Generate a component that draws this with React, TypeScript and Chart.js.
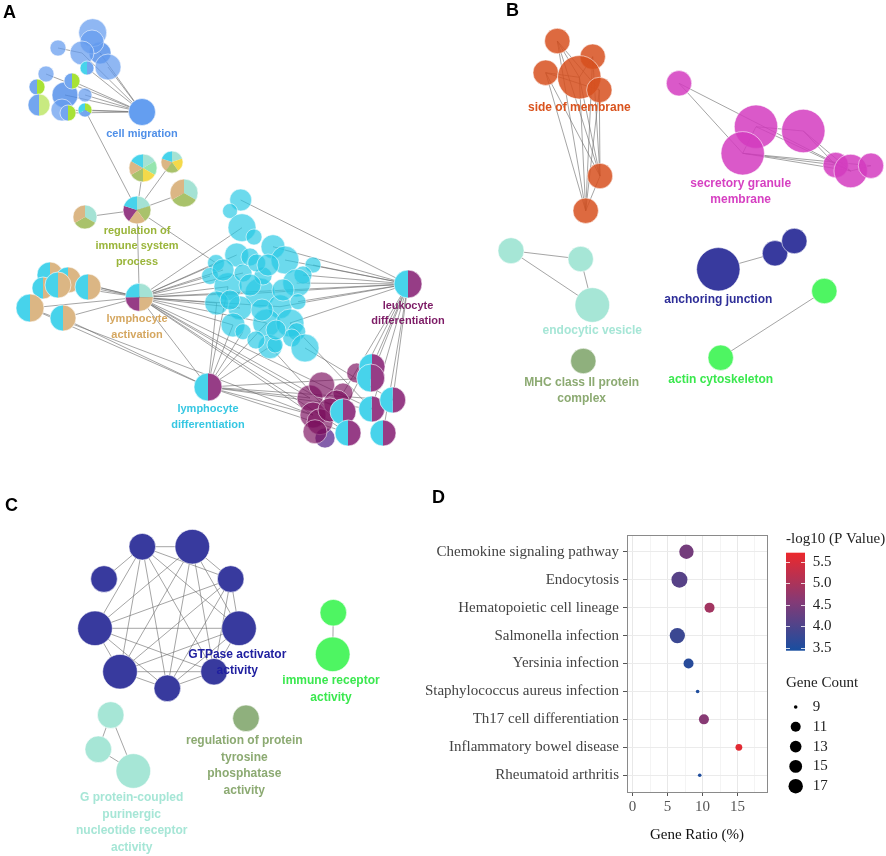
import { useEffect, useRef } from 'react';
import { Chart, registerables } from 'chart.js';
Chart.register(...registerables);

// ---------------- Panel D data ----------------
const pathways = [
  'Chemokine signaling pathway',
  'Endocytosis',
  'Hematopoietic cell lineage',
  'Salmonella infection',
  'Yersinia infection',
  'Staphylococcus aureus infection',
  'Th17 cell differentiation',
  'Inflammatory bowel disease',
  'Rheumatoid arthritis',
];
const geneRatio = [7.7, 6.7, 11.0, 6.4, 8.0, 9.3, 10.2, 15.2, 9.6];
const logP = [4.4, 4.1, 4.9, 3.8, 3.6, 3.5, 4.6, 5.6, 3.5];
const geneCount = [17, 19, 11, 18, 11, 9, 11, 10, 9];
const colorTicks = [3.5, 4.0, 4.5, 5.0, 5.5];
const countTicks = [9, 11, 13, 15, 17];

// ---------------- Network data (layout coordinates) ----------------
// [id, x, y, r, colour]
const nodesA: [string, number, number, number, string][] = [
  ['t1', 92.7, 32.7, 14, 'blue'], ['t2', 92, 42, 12, 'blue'], ['t3', 82, 53, 12, 'blue'],
  ['t4', 100, 53, 11, 'blueD'], ['t5', 108, 67, 13, 'blue'], ['t6', 58, 48, 8, 'blue'],
  ['t7', 46, 74, 8, 'blue'], ['t8', 65, 95, 13, 'blueD'], ['t9', 85, 95, 7, 'blue'],
  ['t10', 62, 110, 11, 'blue'], ['cm', 142, 112, 13.5, 'blueS'],
  ['c1', 240.7, 200, 11, 'cyan'], ['c2', 230, 211, 7.5, 'cyan'], ['c3', 242, 227.7, 14, 'cyan'],
  ['c4', 254, 237, 8, 'cyan'], ['c5', 273, 246.7, 12, 'cyan'], ['c6', 285, 260, 14, 'cyan'],
  ['c7', 236.7, 255, 12, 'cyan'], ['c8', 216, 263, 8.5, 'cyan'], ['c9', 210, 276, 8.5, 'cyan'],
  ['c10', 313, 265, 8, 'cyan'], ['c11', 303, 275, 9, 'cyan'], ['c12', 296.7, 283, 14, 'cyan'],
  ['c13', 228, 286.7, 14, 'cyan'], ['c14', 260, 293, 15, 'cyan'], ['c15', 263, 276, 9, 'cyan'],
  ['c16', 243, 273, 9, 'cyan'], ['c17', 250, 257, 9, 'cyan'], ['c18', 216.7, 303, 12, 'cyan'],
  ['c19', 240, 308, 12, 'cyan'], ['c20', 280, 306.7, 12, 'cyan'], ['c21', 298, 301.7, 8, 'cyan'],
  ['c22', 233, 325, 12, 'cyan'], ['c23', 266.7, 323, 14, 'cyan'], ['c24', 290, 323, 14, 'cyan'],
  ['c25', 243, 331.7, 8, 'cyan'], ['c26', 296.7, 331.7, 9, 'cyan'], ['c27', 270, 346.7, 12, 'cyan'],
  ['c28', 275, 345, 8, 'cyan'], ['c29', 291.7, 338, 9, 'cyan'], ['c30', 305, 348, 14, 'cyan'],
  ['c31', 223, 270, 11, 'cyan'], ['c32', 256.7, 263, 9, 'cyan'], ['c33', 268, 265, 11, 'cyan'],
  ['c34', 250, 285, 11, 'cyan'], ['c35', 262, 310, 11, 'cyan'], ['c36', 283, 290, 11, 'cyan'],
  ['c37', 230, 300, 10, 'cyan'], ['c38', 256, 340, 9, 'cyan'], ['c39', 276, 330, 10, 'cyan'],
  ['u1', 310, 398, 13, 'purple'], ['u2', 321.7, 385, 13, 'purple'], ['u3', 343, 393, 10, 'purple'],
  ['u4', 336.7, 403, 13, 'purple'], ['u5', 313, 415, 13, 'purple'], ['u6', 320, 421.7, 13, 'purple'],
  ['u7', 315, 431.7, 12, 'purple'], ['u8', 325, 438, 10, 'violet'], ['u9', 356.7, 373, 10, 'purple'],
  ['u10', 330, 410, 12, 'purple'],
];
// [id, x, y, r, slice colours clockwise from 12 o'clock]
const piesA: [string, number, number, number, string[]][] = [
  ['p1', 87, 68, 7, ['blueP', 'cyanP']], ['p2', 37, 87, 8, ['lime', 'blueP']],
  ['p3', 39, 105, 11, ['limeL', 'blueP']], ['p4', 72, 81, 8, ['lime', 'blueP']],
  ['p5', 68, 113, 8, ['lime', 'blueP']], ['p6', 85, 110, 7, ['lime', 'blueP', 'cyanP']],
  ['r1', 143, 168, 14, ['mint', 'green', 'yellow', 'olive', 'tan', 'cyanP']],
  ['r2', 172, 162, 11, ['mint', 'yellow', 'olive', 'tan', 'cyanP']],
  ['r3', 184, 193, 14, ['mint', 'olive', 'tan']],
  ['r4', 85, 217, 12, ['mint', 'olive', 'tan']],
  ['reg', 137, 210, 14, ['mint', 'olive', 'tan', 'purpleP', 'cyanP']],
  ['s1', 50, 275, 13, ['tan', 'cyanP']], ['s2', 68, 280, 13, ['tan', 'cyanP']],
  ['s3', 43, 288, 11, ['tan', 'cyanP']], ['s4', 58, 285, 13, ['tan', 'cyanP']],
  ['s5', 88, 287, 13, ['tan', 'cyanP']], ['s6', 30, 308, 14, ['tan', 'cyanP']],
  ['s7', 63, 318, 13, ['tan', 'cyanP']],
  ['la', 139.3, 297.3, 14, ['mint', 'tan', 'purpleP', 'cyanP']],
  ['ld', 408, 284, 14, ['purpleP', 'cyanP']],
  ['lyd', 208, 387, 14, ['purpleP', 'cyanP']],
  ['q1', 343, 411.7, 13, ['purpleP', 'cyanP']], ['q2', 348, 433, 13, ['purpleP', 'cyanP']],
  ['q3', 372, 366.7, 13, ['purpleP', 'cyanP']], ['q4', 370.7, 378, 14, ['purpleP', 'cyanP']],
  ['q5', 371.7, 409, 13, ['purpleP', 'cyanP']], ['q6', 392.7, 400, 13, ['purpleP', 'cyanP']],
  ['q7', 383, 433, 13, ['purpleP', 'cyanP']],
];
const edgesA: [string, string][] = [
  ['t3', 'cm'], ['t4', 'cm'], ['t5', 'cm'], ['p1', 'cm'], ['t7', 'cm'], ['t8', 'cm'], ['t9', 'cm'],
  ['t10', 'cm'], ['p5', 'cm'], ['p6', 'cm'], ['p4', 'cm'], ['t6', 't3'],
  ['reg', 'r1'], ['reg', 'r2'], ['reg', 'r3'], ['reg', 'r4'], ['reg', 'la'], ['p6', 'reg'], ['reg', 'c8'],
  ['la', 's1'], ['la', 's2'], ['la', 's5'], ['la', 's6'], ['la', 's7'], ['la', 's4'],
  ['la', 'c8'], ['la', 'c9'], ['la', 'c13'], ['la', 'c31'], ['la', 'c16'], ['la', 'c18'], ['la', 'c14'],
  ['la', 'c19'], ['la', 'c22'], ['la', 'c3'], ['la', 'c7'], ['la', 'c20'], ['la', 'c23'],
  ['la', 'ld'], ['la', 'lyd'], ['la', 'u1'], ['la', 'u5'], ['la', 'q2'], ['la', 'q5'], ['la', 'q1'],
  ['ld', 'c1'], ['ld', 'c5'], ['ld', 'c6'], ['ld', 'c10'], ['ld', 'c12'], ['ld', 'c11'], ['ld', 'c24'],
  ['ld', 'c21'], ['ld', 'c20'], ['ld', 'c14'], ['ld', 'q3'], ['ld', 'q4'], ['ld', 'q5'], ['ld', 'q6'],
  ['ld', 'q7'], ['ld', 'q1'], ['ld', 'u3'],
  ['lyd', 'c22'], ['lyd', 'c25'], ['lyd', 'c27'], ['lyd', 'c13'], ['lyd', 'c23'], ['lyd', 'c18'],
  ['lyd', 'u1'], ['lyd', 'u5'], ['lyd', 'q2'], ['lyd', 'q5'], ['lyd', 'q4'], ['lyd', 's6'], ['lyd', 's7'],
  ['lyd', 'q6'], ['s6', 'u5'], ['c30', 'q6'], ['c27', 'q2'], ['c24', 'q5'],
];

const nodesB: [string, number, number, number, string][] = [
  ['o1', 557.3, 41, 12.7, 'orange'], ['o2', 592.7, 56.7, 12.7, 'orange'], ['o3', 545.7, 72.7, 12.7, 'orange'],
  ['o4', 579.3, 77.3, 21.7, 'orange'], ['o5', 599.3, 90, 12.7, 'orange'], ['o6', 600, 176, 12.7, 'orange'],
  ['o7', 585.7, 210.7, 12.7, 'orange'],
  ['m1', 679, 83.3, 12.7, 'magenta'], ['m2', 756, 126.7, 21.7, 'magenta'], ['m3', 803.3, 131, 21.7, 'magenta'],
  ['m4', 742.7, 153.3, 21.7, 'magenta'], ['m5', 835.7, 165, 12.7, 'magenta'], ['m6', 850.7, 171, 16.7, 'magenta'],
  ['m7', 871, 165.7, 12.7, 'magenta'],
  ['e1', 511, 250.7, 13, 'mintN'], ['e2', 580.7, 259, 12.7, 'mintN'], ['e3', 592.3, 305, 17.3, 'mintN'],
  ['mhc', 583.3, 361, 12.7, 'oliveN'],
  ['j1', 718.3, 269.3, 21.7, 'navy'], ['j2', 775, 253.3, 12.7, 'navy'], ['j3', 794.3, 241, 12.7, 'navy'],
  ['g1', 824.3, 291, 12.7, 'greenN'], ['g2', 720.7, 357.7, 12.7, 'greenN'],
];
const edgesB: [string, string][] = [
  ['o1', 'o6'], ['o1', 'o7'], ['o3', 'o6'], ['o3', 'o7'], ['o4', 'o6'], ['o4', 'o7'], ['o5', 'o6'],
  ['o5', 'o7'], ['o2', 'o6'], ['o2', 'o7'], ['o1', 'o5'], ['o3', 'o5'], ['o6', 'o7'], ['o1', 'o4'],
  ['o3', 'o4'], ['o2', 'o4'],
  ['m1', 'm6'], ['m1', 'm4'], ['m2', 'm3'], ['m4', 'm5'], ['m4', 'm6'], ['m4', 'm7'], ['m2', 'm6'],
  ['m3', 'm6'], ['m3', 'm5'], ['m5', 'm6'], ['m6', 'm7'], ['m2', 'm4'],
  ['e1', 'e2'], ['e1', 'e3'], ['e2', 'e3'],
  ['j1', 'j2'], ['j2', 'j3'],
  ['g1', 'g2'],
];

const nodesC: [string, number, number, number, string][] = [
  ['k1', 142.3, 546.7, 13.3, 'navy'], ['k2', 192.3, 546.7, 17.3, 'navy'], ['k3', 104, 579, 13.3, 'navy'],
  ['k4', 230.7, 579, 13.3, 'navy'], ['k5', 95, 628.3, 17.3, 'navy'], ['k6', 239, 628.3, 17.3, 'navy'],
  ['k7', 120, 671.7, 17.3, 'navy'], ['k8', 167.3, 688.3, 13.3, 'navy'], ['k9', 214, 671.7, 13.3, 'navy'],
  ['h1', 110.7, 715, 13.3, 'mintN'], ['h2', 98.3, 749.3, 13.3, 'mintN'], ['h3', 133.3, 771, 17.3, 'mintN'],
  ['i1', 333.3, 612.7, 13.3, 'greenN'], ['i2', 332.7, 654.3, 17.3, 'greenN'],
  ['v1', 246, 718.3, 13.3, 'oliveN'],
];
const edgesC: [string, string][] = [
  ['k3', 'k1'],
  ['k1', 'k2'], ['k1', 'k4'], ['k1', 'k5'], ['k1', 'k6'], ['k1', 'k7'], ['k1', 'k8'], ['k1', 'k9'],
  ['k2', 'k4'], ['k2', 'k5'], ['k2', 'k6'], ['k2', 'k7'], ['k2', 'k8'], ['k2', 'k9'],
  ['k4', 'k5'], ['k4', 'k6'], ['k4', 'k7'], ['k4', 'k8'], ['k4', 'k9'],
  ['k5', 'k6'], ['k5', 'k7'], ['k5', 'k8'], ['k5', 'k9'],
  ['k6', 'k7'], ['k6', 'k8'], ['k6', 'k9'],
  ['k7', 'k8'], ['k7', 'k9'], ['k8', 'k9'],
  ['h1', 'h2'], ['h1', 'h3'], ['h2', 'h3'],
  ['i1', 'i2'],
];

// [lines, x, y of first line, colour, font size]
const netLabels: [string[], number, number, string, number][] = [
  [['cell migration'], 142, 134, '#4f8fe8', 11],
  [['regulation of', 'immune system', 'process'], 137, 230.7, '#9ab53a', 11],
  [['lymphocyte', 'activation'], 137, 319, '#d5a760', 11],
  [['leukocyte', 'differentiation'], 408, 305.7, '#7d1c66', 11],
  [['lymphocyte', 'differentiation'], 208, 409, '#36c7e2', 11],
  [['side of membrane'], 579.3, 107.3, '#d9531e', 12],
  [['secretory granule', 'membrane'], 740.7, 183.3, '#d640c2', 12],
  [['endocytic vesicle'], 592.3, 331, '#a6e6d6', 12],
  [['MHC class II protein', 'complex'], 581.7, 382.3, '#8caa72', 12],
  [['anchoring junction'], 718.3, 300, '#2e2e98', 12],
  [['actin cytoskeleton'], 720.7, 379.3, '#3ae84e', 12],
  [['GTPase activator', 'activity'], 237.3, 654.3, '#2020a0', 12],
  [['immune receptor', 'activity'], 331, 680.7, '#3ae84e', 12],
  [['regulation of protein', 'tyrosine', 'phosphatase', 'activity'], 244.3, 740.7, '#8caa72', 12],
  [['G protein-coupled', 'purinergic', 'nucleotide receptor', 'activity'], 131.7, 797.7, '#a6e6d6', 12],
];
const panelLetters: [string, number, number][] = [
  ['A', 3, 13], ['B', 506, 11], ['C', 5, 506], ['D', 432, 498],
];

const COLORS: Record<string, string> = {
  blue: 'rgba(100,155,238,0.72)', blueD: 'rgba(70,135,232,0.78)', blueS: 'rgba(100,158,240,1)',
  cyan: 'rgba(38,200,228,0.68)', purple: 'rgba(122,12,92,0.66)', violet: 'rgba(100,55,150,0.8)',
  blueP: '#73a6ef', cyanP: '#47d3eb', lime: '#a8e236', limeL: '#c8ea80', purpleP: '#963d86',
  tan: '#dbb684', mint: '#a4e2d4', green: '#94e5ae', yellow: '#f4d94a', olive: '#a9c26b',
  orange: 'rgba(215,80,30,0.85)', magenta: 'rgba(212,60,192,0.85)', mintN: '#a6e6d6',
  oliveN: '#8fb07d', navy: '#383a9e', greenN: '#4ef562',
};

const sizeStops: [number, number][] = [[9, 1.8], [11, 5], [13, 5.8], [15, 6.4], [17, 7.2], [19, 8]];
function sizeFor(c: number) {
  for (let i = 0; i < sizeStops.length - 1; i++) {
    const [a, ra] = sizeStops[i];
    const [b, rb] = sizeStops[i + 1];
    if (c <= b) return ra + ((c - a) / (b - a)) * (rb - ra);
  }
  return sizeStops[sizeStops.length - 1][1];
}
const colStops: [number, number[]][] = [[3.43, [24, 78, 160]], [4.57, [132, 58, 118]], [5.71, [236, 40, 44]]];
function colorFor(v: number) {
  const t = Math.max(colStops[0][0], Math.min(colStops[2][0], v));
  const i = t <= colStops[1][0] ? 0 : 1;
  const [a, ca] = colStops[i];
  const [b, cb] = colStops[i + 1];
  const f = (t - a) / (b - a);
  const c = ca.map((x, k) => Math.round(x + f * (cb[k] - x)));
  return `rgb(${c[0]},${c[1]},${c[2]})`;
}
const isMajor = (v: number) => Math.abs(v / 5 - Math.round(v / 5)) < 1e-6;

export default function App() {
  const netRef = useRef<HTMLCanvasElement>(null);
  const dRef = useRef<HTMLCanvasElement>(null);

  useEffect(() => {
    const pos: Record<string, [number, number]> = {};
    [...nodesA, ...nodesB, ...nodesC].forEach(n => (pos[n[0]] = [n[1], n[2]]));
    piesA.forEach(p => (pos[p[0]] = [p[1], p[2]]));

    const edgeData = (edges: [string, string][]) => {
      const out: any[] = [];
      edges.forEach(([a, b]) => {
        out.push({ x: pos[a][0], y: pos[a][1] });
        out.push({ x: pos[b][0], y: pos[b][1] });
        out.push({ x: pos[b][0], y: null });
      });
      return out;
    };

    const allNodes = [...nodesA, ...nodesB, ...nodesC];
    const colorKeys = Array.from(new Set(allNodes.map(n => n[4])));
    const nodeSets = colorKeys.map(k => ({
      type: 'bubble' as const,
      data: allNodes.filter(n => n[4] === k).map(n => ({ x: n[1], y: n[2], r: n[3] })),
      backgroundColor: COLORS[k],
      borderColor: 'rgba(255,255,255,0.55)',
      borderWidth: 1,
      order: 1,
    }));
    const edgeSets = [edgesA, edgesB, edgesC].map(e => ({
      type: 'line' as const,
      data: edgeData(e),
      borderColor: 'rgba(105,105,105,0.6)',
      borderWidth: 1,
      pointRadius: 0,
      showLine: true,
      spanGaps: false,
      fill: false,
      tension: 0,
      order: 5,
    }));

    const piePlugin = {
      id: 'pies',
      afterDatasetsDraw(chart: any) {
        const { ctx, scales } = chart;
        ctx.save();
        piesA.forEach(([, px, py, r, cols]) => {
          const cx = scales.x.getPixelForValue(px);
          const cy = scales.y.getPixelForValue(py);
          const step = (Math.PI * 2) / cols.length;
          cols.forEach((c, i) => {
            ctx.beginPath();
            ctx.moveTo(cx, cy);
            ctx.arc(cx, cy, r, -Math.PI / 2 + i * step, -Math.PI / 2 + (i + 1) * step);
            ctx.closePath();
            ctx.fillStyle = COLORS[c];
            ctx.fill();
          });
          ctx.beginPath();
          ctx.arc(cx, cy, r, 0, Math.PI * 2);
          ctx.strokeStyle = 'rgba(255,255,255,0.6)';
          ctx.lineWidth = 1;
          ctx.stroke();
        });
        ctx.restore();
      },
    };
    const labelPlugin = {
      id: 'netLabels',
      afterDraw(chart: any) {
        const { ctx, scales } = chart;
        ctx.save();
        ctx.textAlign = 'center';
        ctx.textBaseline = 'middle';
        netLabels.forEach(([lines, lx, ly, col, size]) => {
          ctx.font = `bold ${size}px "Liberation Sans", Arial, sans-serif`;
          ctx.fillStyle = col;
          lines.forEach((t, i) => {
            ctx.fillText(t, scales.x.getPixelForValue(lx), scales.y.getPixelForValue(ly + i * (size + 4.6)));
          });
        });
        ctx.textAlign = 'left';
        ctx.font = 'bold 18px "Liberation Sans", Arial, sans-serif';
        ctx.fillStyle = '#000';
        panelLetters.forEach(([t, lx, ly]) => ctx.fillText(t, lx, ly));
        ctx.restore();
      },
    };

    const net = new Chart(netRef.current!, {
      type: 'bubble',
      data: { datasets: [...nodeSets, ...edgeSets] as any },
      options: {
        animation: false,
        responsive: false,
        maintainAspectRatio: false,
        layout: { padding: 0, autoPadding: false },
        scales: {
          x: { type: 'linear', min: 0, max: 886, display: false },
          y: { type: 'linear', min: 0, max: 856, reverse: true, display: false },
        },
        plugins: { legend: { display: false }, tooltip: { enabled: false } },
      },
      plugins: [piePlugin, labelPlugin],
    });

    // ---------- Panel D ----------
    const serif = '"Liberation Serif", "Times New Roman", serif';
    const dLegend = {
      id: 'dLegend',
      afterDraw(chart: any) {
        const { ctx, chartArea } = chart;
        ctx.save();
        ctx.strokeStyle = '#8a8a8a';
        ctx.lineWidth = 1;
        ctx.strokeRect(Math.round(chartArea.left) + 0.5, Math.round(chartArea.top) + 0.5,
          Math.round(chartArea.right - chartArea.left), Math.round(chartArea.bottom - chartArea.top));
        // colour bar
        const bx = 406, bw = 19, by0 = 52.7, by1 = 150.7;
        const vAt = (y: number) => 5.5 + (61.7 - y) / 43;
        const yAt = (v: number) => 61.7 - (v - 5.5) * 43;
        const g = ctx.createLinearGradient(0, by0, 0, by1);
        for (let s = 0; s <= 10; s++) {
          const y = by0 + ((by1 - by0) * s) / 10;
          g.addColorStop(s / 10, colorFor(vAt(y)));
        }
        ctx.fillStyle = g;
        ctx.fillRect(bx, by0, bw, by1 - by0);
        ctx.strokeStyle = 'rgba(255,255,255,0.8)';
        colorTicks.forEach(v => {
          const y = Math.round(yAt(v)) + 0.5;
          ctx.beginPath();
          ctx.moveTo(bx, y); ctx.lineTo(bx + 4, y);
          ctx.moveTo(bx + bw - 4, y); ctx.lineTo(bx + bw, y);
          ctx.stroke();
        });
        ctx.fillStyle = '#222';
        ctx.font = `15px ${serif}`;
        ctx.textBaseline = 'middle';
        ctx.textAlign = 'left';
        ctx.fillText('-log10 (P Value)', 406, 39);
        colorTicks.forEach(v => ctx.fillText(v.toFixed(1), 432.7, yAt(v)));
        ctx.fillText('Gene Count', 406, 183);
        countTicks.forEach((c, i) => {
          const y = 207 + i * 19.8;
          ctx.beginPath();
          ctx.arc(415.7, y, sizeFor(c), 0, Math.PI * 2);
          ctx.fillStyle = '#000';
          ctx.fill();
          ctx.fillStyle = '#222';
          ctx.fillText(String(c), 432.7, y);
        });
        ctx.restore();
      },
    };

    const d = new Chart(dRef.current!, {
      type: 'bubble',
      data: {
        datasets: [{
          data: pathways.map((_, i) => ({ x: geneRatio[i], y: i + 1, r: sizeFor(geneCount[i]) })),
          backgroundColor: logP.map(colorFor),
          borderWidth: 0,
        }],
      },
      options: {
        animation: false,
        responsive: false,
        maintainAspectRatio: false,
        layout: { padding: { top: 35, right: 119, left: 0, bottom: 0 }, autoPadding: false },
        scales: {
          x: {
            type: 'linear', min: -0.8, max: 19.22,
            afterFit: (s: any) => { s.height = 64; },
            ticks: {
              stepSize: 2.5, includeBounds: false, autoSkip: false, maxRotation: 0, padding: 2,
              color: '#555', font: { family: serif, size: 15 },
              callback: (v: any) => (isMajor(Number(v)) ? String(Math.round(Number(v))) : ''),
            },
            grid: {
              color: (c: any) => (isMajor(c.tick.value) ? '#e8e8e8' : '#f4f4f4'),
              tickColor: (c: any) => (isMajor(c.tick.value) ? '#555' : 'rgba(0,0,0,0)'),
              tickLength: 4,
            },
            border: { display: false },
            title: { display: true, text: 'Gene Ratio (%)', color: '#111', font: { family: serif, size: 15 }, padding: { top: 2, bottom: 12 } },
          },
          y: {
            type: 'linear', min: 0.4, max: 9.6, reverse: true,
            afterFit: (s: any) => { s.width = 247; },
            ticks: {
              stepSize: 1, includeBounds: false, autoSkip: false, padding: 4,
              color: '#444', font: { family: serif, size: 15 },
              callback: (v: any) => pathways[Math.round(v) - 1] ?? '',
            },
            grid: { color: '#ebebeb', tickColor: '#555', tickLength: 4 },
            border: { display: false },
          },
        },
        plugins: { legend: { display: false }, tooltip: { enabled: false } },
      },
      plugins: [dLegend],
    });

    return () => { net.destroy(); d.destroy(); };
  }, []);

  return (
    <div style={{ position: 'absolute', left: 0, top: 0, width: 886, height: 856, background: '#fff', overflow: 'hidden' }}>
      <canvas ref={netRef} width={886} height={856} style={{ position: 'absolute', left: 0, top: 0, width: 886, height: 856 }} />
      <canvas ref={dRef} width={506} height={356} style={{ position: 'absolute', left: 380, top: 500, width: 506, height: 356 }} />
    </div>
  );
}
